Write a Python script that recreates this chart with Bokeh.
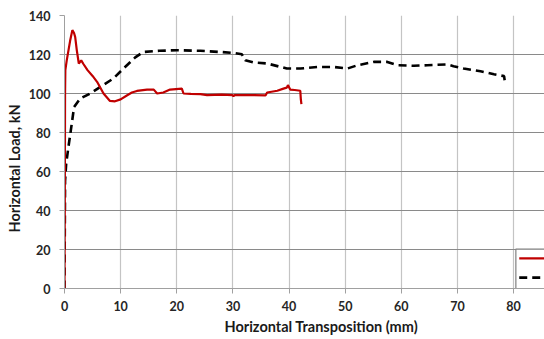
from bokeh.plotting import figure
from bokeh.models import Range1d, FixedTicker, Title
from bokeh.embed import file_html
from bokeh.resources import INLINE

# Specimen A (solid red)
red_x = [0.0, 0.05, 0.1, 0.15, 0.4, 0.7, 1.0, 1.4, 1.7, 1.9, 2.2, 2.55, 2.98, 3.4, 4.1, 5.0, 5.8,
         6.95, 8.1, 9.0, 10.0, 11.1, 12.0, 12.9, 14.7, 15.9, 16.5, 17.6, 18.8, 20.9, 21.2,
         22.5, 24.2, 25.4, 28.0, 29.9, 30.1, 30.3, 33.0, 35.8, 36.1, 37.9, 39.0, 39.6, 39.8,
         40.2, 41.0, 42.0, 42.1, 42.2]
red_y = [0.0, 40.0, 100.0, 112.0, 117.0, 122.0, 127.0, 132.5, 131.0, 129.0, 122.0, 115.4, 117.0, 115.0,
         112.0, 109.0, 106.0, 100.0, 96.2, 96.0, 97.0, 99.0, 100.5, 101.3, 102.0, 102.0, 100.0,
         100.5, 102.0, 102.5, 100.0, 99.8, 99.7, 99.2, 99.4, 99.2, 98.6, 99.2, 99.2, 99.0, 100.5,
         101.4, 102.5, 103.0, 104.3, 102.0, 101.8, 101.4, 97.0, 94.5]

# Specimen B (dashed black)
blk_x = [0.0, 0.1, 0.3, 0.7, 1.3, 1.7, 2.8, 4.6, 6.4, 8.7, 10.5, 12.6, 14.0, 16.9, 20.0,
         24.2, 27.7, 30.1, 31.6, 32.2, 33.7, 36.1, 39.6, 42.0, 45.0, 48.0, 50.4, 52.2,
         55.1, 57.5, 59.3, 62.2, 64.6, 68.2, 69.3, 71.1, 74.1, 76.5, 78.3, 78.4]
blk_y = [0.0, 55.0, 64.0, 72.6, 84.6, 93.0, 97.4, 100.0, 103.4, 107.7, 112.8, 118.5, 121.3,
         121.9, 122.2, 121.9, 121.3, 120.8, 120.1, 117.0, 115.9, 115.4, 112.8, 112.8, 113.6,
         113.6, 112.8, 114.5, 116.2, 116.2, 114.5, 114.2, 114.5, 114.9, 114.0, 112.8, 111.4,
         109.9, 108.9, 106.8]

x_ticks = [0, 10, 20, 30, 40, 50, 60, 70, 80]
y_ticks = [0, 20, 40, 60, 80, 100, 120, 140]

FONT = "Lato"

p = figure(width=544, height=339, output_backend="svg", toolbar_location=None,
           x_range=Range1d(0, 85.5), y_range=Range1d(0, 140),
           min_border_left=64, min_border_right=0, min_border_top=15, min_border_bottom=51)
p.outline_line_color = None
p.background_fill_color = "white"

for ax in (p.xaxis[0], p.yaxis[0]):
    ax.major_label_text_font = FONT
    ax.major_label_text_font_style = "bold"
    ax.major_label_text_font_size = "12.5px"
    ax.major_label_text_color = "#262626"
    ax.axis_line_color = "#a0a0a0"
    ax.major_tick_line_color = "#a0a0a0"
    ax.major_tick_out = 5
    ax.major_tick_in = 0
    ax.minor_tick_line_color = None

p.xaxis.ticker = FixedTicker(ticks=x_ticks)
p.yaxis.ticker = FixedTicker(ticks=y_ticks)
p.xaxis.major_label_standoff = 7
p.yaxis.major_label_standoff = 9

p.xgrid.ticker = FixedTicker(ticks=x_ticks)
p.ygrid.ticker = FixedTicker(ticks=y_ticks)
p.xgrid.grid_line_color = "#c4c4c4"
p.xgrid.grid_line_width = 1.2
p.ygrid.grid_line_color = "#8a8a8a"
p.ygrid.grid_line_width = 1.2

yt = Title(text="Horizontal Load, kN", align="left", offset=56,
           text_font=FONT, text_font_style="bold", text_font_size="14.5px",
           text_color="#1a1a1a", standoff=6)
p.add_layout(yt, "left")

xt = Title(text="Horizontal Transposition (mm)", align="left", offset=160,
           text_font=FONT, text_font_style="bold", text_font_size="14.5px",
           text_color="#1a1a1a", standoff=5)
p.add_layout(xt, "below")

p.line(blk_x, blk_y, line_color="black", line_width=2.6, line_dash="8 5")
p.line(red_x, red_y, line_color="#c00000", line_width=2.2)

# legend box (partially cropped at the right edge, as in the reference)
p.quad(left=80.4, right=95, bottom=0, top=20.2, fill_color="white",
       line_color="#7f7f7f", line_width=1.2)
p.line([81.0, 90.0], [15.4, 15.4], line_color="#c00000", line_width=2.2)
p.line([81.0, 90.0], [5.6, 5.6], line_color="black", line_width=2.6, line_dash="8 5")

open("out.html", "w").write(file_html(p, INLINE))
